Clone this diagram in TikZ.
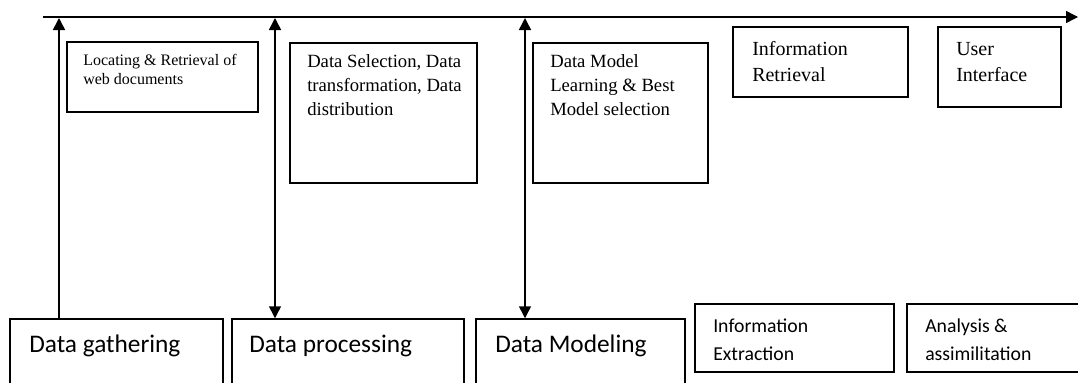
\documentclass[tikz,border=0pt]{standalone}
\usepackage{fontspec}
\setmainfont{Liberation Serif}
\newfontfamily\carlito{Carlito}
\usetikzlibrary{arrows.meta,fit}
\begin{document}
\begin{tikzpicture}[x=0.75pt,y=-0.75pt,
  box/.style={draw, line width=1.1pt, inner sep=0pt},
  conn/.style={line width=1.1pt},
  tip/.tip={Triangle[length=9pt,width=9pt]},
  txt/.style={align=left, anchor=base west, inner sep=0pt},
  sersmall/.style={txt, font=\fontsize{12}{14.25}\selectfont},
  sermid/.style={txt, font=\fontsize{14}{18}\selectfont},
  serbig/.style={txt, font=\fontsize{15}{19.5}\selectfont},
  calbig/.style={txt, font=\carlito\fontsize{19}{23}\selectfont},
  calmid/.style={txt, font=\carlito\fontsize{14.8}{21}\selectfont}]
\useasboundingbox (0,0) rectangle (1078,382);
\clip (0,0) rectangle (1078,382);
% top boxes
\node[box, fit={(67,42)(258,112)}] (loc) {};
\node[box, fit={(290,43)(477,183)}] (sel) {};
\node[box, fit={(533,43)(708,183)}] (mod) {};
\node[box, fit={(733,27)(908,97)}] (ir) {};
\node[box, fit={(938,27)(1061,107)}] (ui) {};
% bottom boxes
\node[box, fit={(10,319)(223,395)}] (dg) {};
\node[box, fit={(232,319)(464,395)}] (dp) {};
\node[box, fit={(476,319)(685,395)}] (dm) {};
\node[box, fit={(695,304)(894,372)}] (ie) {};
\node[box, fit={(907,304)(1090,372)}] (aa) {};
% texts (anchored at the baseline of the last line)
\node[sersmall] (tloc) at (83,84) {Locating \& Retrieval of\\web documents};
\node[sermid] (tsel) at (307,115) {Data Selection, Data\\transformation, Data\\distribution};
\node[sermid] (tmod) at (550,115) {Data Model\\Learning \& Best\\Model selection};
\node[serbig] (tir) at (752,81) {Information\\Retrieval};
\node[serbig] (tui) at (956,81) {User\\Interface};
\node[calbig] (tdg) at (29,352) {Data gathering};
\node[calbig] (tdp) at (249,352) {Data processing};
\node[calbig] (tdm) at (495,352) {Data Modeling};
\node[calmid] (tie) at (713,360) {Information\\Extraction};
\node[calmid] (taa) at (925,360) {Analysis \&\\assimilitation};
% top timeline
\coordinate (tl) at (43,17);
\coordinate (tr) at (1078,17);
\draw[conn, -{tip}] (tl) -- (tr);
\coordinate (a1) at (59,18);
\coordinate (a2) at (275,18);
\coordinate (a3) at (525,18);
\draw[conn, -{tip}] (dg.north -| a1) -- (a1);
\draw[conn, {tip}-{tip}] (dp.north -| a2) -- (a2);
\draw[conn, {tip}-{tip}] (dm.north -| a3) -- (a3);
\end{tikzpicture}
\end{document}
